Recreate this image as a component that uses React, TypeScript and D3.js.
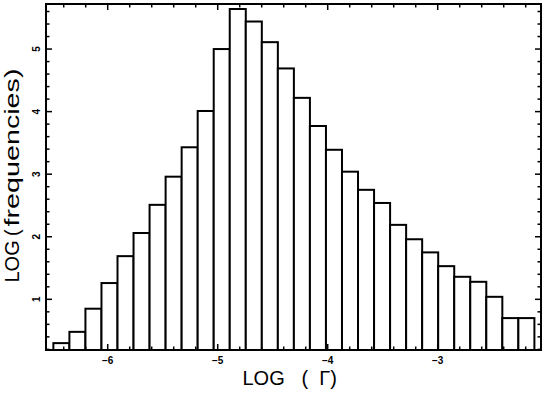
import React from "react";
import * as d3 from "d3";

// Histogram of LOG(Gamma)

const counts = [
  0.3, 0.48, 0.85, 1.26, 1.69, 2.06, 2.51, 2.96, 3.43, 4.01,
  5.0, 5.64, 5.44, 5.11, 4.69, 4.22, 3.77, 3.39, 3.04, 2.75,
  2.54, 2.19, 1.96, 1.75, 1.53, 1.36, 1.28, 1.04, 0.7, 0.7,
];
const binLow = -6.494;
const binHigh = -2.121;

const xMajor = [-6, -5, -4, -3];
const xTickLabels = ["\u22126", "\u22125", "\u22124", "\u22123"];
const yMajor = [1, 2, 3, 4, 5];
const yTickLabels = ["1", "2", "3", "4", "5"];

const W = 545, H = 395;
const margin = { top: 4, right: 4, bottom: 45, left: 46 };
const font = "'Liberation Sans', Arial, Helvetica, sans-serif";

export default function App() {
  const x = d3.scaleLinear().domain([-6.561, -2.061]).range([margin.left, W - margin.right]);
  const y = d3.scaleLinear().domain([0.19, 5.72]).range([H - margin.bottom, margin.top]);
  const [x0, x1] = x.range();
  const [yb, yt] = y.range();

  const binW = (binHigh - binLow) / counts.length;
  const xMinor = d3.range(-6.4, -2.1, 0.2).map(v => Math.round(v * 10) / 10);
  const yMinor = d3.range(0.2, 5.71, 0.2).map(v => Math.round(v * 10) / 10);
  const isMajor = (v: number) => Math.abs(v - Math.round(v)) < 1e-6;

  const big = 6, small = 3.5;

  return (
    <svg width={W} height={H} style={{ position: "absolute", left: 0, top: 0, background: "#fff" }}>
      {counts.map((c, i) => {
        const a = x(binLow + i * binW);
        const b = x(binLow + (i + 1) * binW);
        return (
          <rect key={i} x={a} y={y(c)} width={b - a} height={yb - y(c)}
            fill="#fff" stroke="#000" strokeWidth={2} />
        );
      })}

      {/* ticks, inward on all sides */}
      {xMinor.map(v => {
        const L = isMajor(v) ? big : small;
        return (
          <g key={"x" + v} stroke="#000" strokeWidth={1.5}>
            <line x1={x(v)} x2={x(v)} y1={yb} y2={yb - L} />
            <line x1={x(v)} x2={x(v)} y1={yt} y2={yt + L} />
          </g>
        );
      })}
      {yMinor.map(v => {
        const L = isMajor(v) ? big : small;
        return (
          <g key={"y" + v} stroke="#000" strokeWidth={1.5}>
            <line x1={x0} x2={x0 + L} y1={y(v)} y2={y(v)} />
            <line x1={x1} x2={x1 - L} y1={y(v)} y2={y(v)} />
          </g>
        );
      })}

      <rect x={x0} y={yt} width={x1 - x0} height={yb - yt} fill="none" stroke="#000" strokeWidth={2} />

      {xMajor.map((v, i) => (
        <text key={"xl" + v} x={x(v)} y={363.5} textAnchor="middle"
          fontFamily={font} fontWeight="bold" fontSize={10}>{xTickLabels[i]}</text>
      ))}
      {yMajor.map((v, i) => (
        <text key={"yl" + v} transform={`translate(39.5,${y(v)}) rotate(-90)`} textAnchor="middle"
          fontFamily={font} fontWeight="bold" fontSize={10}>{yTickLabels[i]}</text>
      ))}

      {/* x title */}
      <text x={242.5} y={385} fontFamily={font} fontSize={20} style={{ whiteSpace: "pre" }}>
        {"LOG   (  \u0393)"}
      </text>

      {/* y title */}
      <g fontFamily={font} fontSize={20} transform="translate(18.5,0) rotate(-90)">
        <text x={-282.5} y={0}>LOG</text>
        <text x={-236} y={0}>(</text>
        <text x={-226.5} y={0} textLength={158} lengthAdjust="spacingAndGlyphs" fontSize={20.5}>frequencies)</text>
      </g>
    </svg>
  );
}
